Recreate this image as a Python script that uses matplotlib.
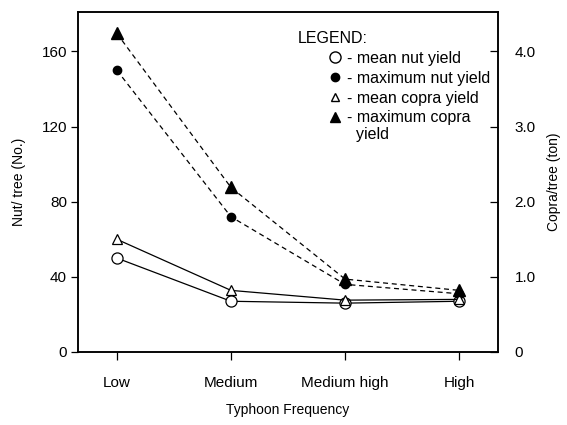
import matplotlib
matplotlib.use("Agg")
import matplotlib.pyplot as plt
from matplotlib.lines import Line2D

plt.rcParams['font.family'] = ['Liberation Sans', 'DejaVu Sans']
plt.rcParams['font.size'] = 10

# data
categories = ['Low', 'Medium', 'Medium high', 'High']
mean_nut = [50, 27, 26, 27]          # nuts/tree, left axis
max_nut = [150, 72, 36, 31]          # nuts/tree, left axis
mean_copra = [1.50, 0.82, 0.69, 0.70]  # ton/tree, right axis
max_copra = [4.24, 2.19, 0.97, 0.82]   # ton/tree, right axis

left_ticks = [0, 40, 80, 120, 160]
left_ticklabels = ['0', '40', '80', '120', '160']
right_ticks = [0, 1.0, 2.0, 3.0, 4.0]
right_ticklabels = ['0', '1.0', '2.0', '3.0', '4.0']

x = list(range(len(categories)))

fig = plt.figure(figsize=(5.67, 4.25), dpi=100)
ax = fig.add_axes([0.1376, 0.1718, 0.7407, 0.80])
ax2 = ax.twinx()

dash = (0, (4, 3))
ax.plot(x, mean_nut, color='k', lw=0.9, marker='o', ms=8, mfc='white', mec='k', mew=0.9, zorder=3)
ax.plot(x, max_nut, color='k', lw=0.9, ls=dash, marker='o', ms=6, mfc='k', mec='k', zorder=3)
ax2.plot(x, mean_copra, color='k', lw=0.9, marker='^', ms=7.5, mfc='white', mec='k', mew=0.9, zorder=3)
ax2.plot(x, max_copra, color='k', lw=0.9, ls=dash, marker='^', ms=8, mfc='k', mec='k', zorder=3)

ax.set_xlim(-0.34, 3.34)
ax.set_ylim(0, 181)
ax2.set_ylim(0, 181 / 40.0)

ax.set_xticks(x)
ax.set_xticklabels(categories, fontsize=11)
ax.set_yticks(left_ticks)
ax.set_yticklabels(left_ticklabels, fontsize=11)
ax2.set_yticks(right_ticks)
ax2.set_yticklabels(right_ticklabels, fontsize=11)

ax.tick_params(axis='x', direction='out', length=6, width=0.9, pad=11)
ax.tick_params(axis='y', direction='out', length=5, width=0.9, pad=3)
ax2.tick_params(axis='y', direction='in', length=6, width=0.9, pad=12)

for a in (ax, ax2):
    for s in a.spines.values():
        s.set_linewidth(1.1)

ax.set_ylabel('Nut/ tree (No.)', labelpad=11)
ax2.set_ylabel('Copra/tree (ton)', labelpad=8)
ax.set_xlabel('Typhoon Frequency', labelpad=10)

# legend block
ax.text(0.523, 0.945, 'LEGEND:', transform=ax.transAxes, ha='left', va='top', fontsize=11.5)
handles = [
    Line2D([], [], ls='none', marker='o', ms=8, mfc='white', mec='k'),
    Line2D([], [], ls='none', marker='o', ms=6, mfc='k', mec='k'),
    Line2D([], [], ls='none', marker='^', ms=6, mfc='white', mec='k'),
    Line2D([], [], ls='none', marker='^', ms=7, mfc='k', mec='k'),
    Line2D([], [], ls='none'),
]
labels = ['- mean nut yield', '- maximum nut yield', '- mean copra yield', '- maximum copra', '  yield']
leg = ax.legend(handles, labels, loc='upper left', bbox_to_anchor=(0.597, 0.885), frameon=False,
                handlelength=0.8, handletextpad=0.35, labelspacing=0.3, borderpad=0, borderaxespad=0,
                fontsize=11.5)
# the wrapped "yield" line sits closer to the line above it
leg.get_texts()[-1].set_y(3)

fig.savefig('out.png', dpi=100)
